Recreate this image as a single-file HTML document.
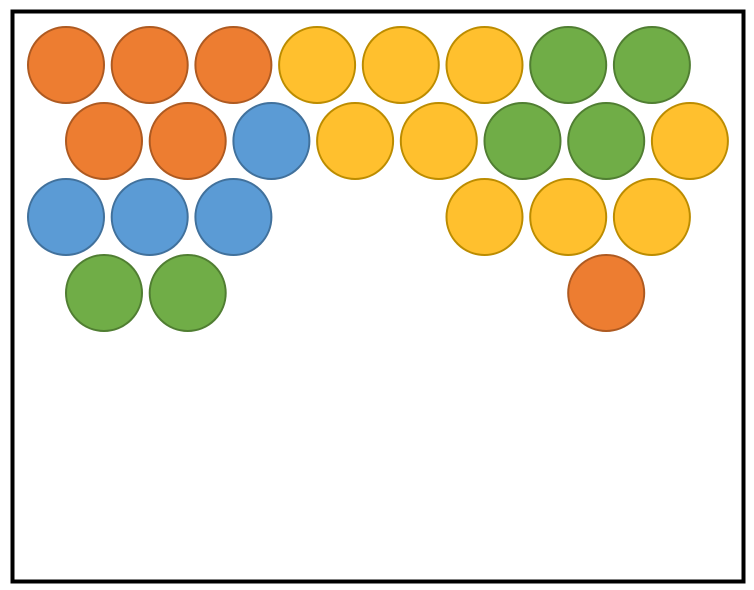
<!DOCTYPE html>
<html><head><meta charset="utf-8"><style>
html,body{margin:0;padding:0;background:#fff;width:754px;height:590px;overflow:hidden}
</style></head><body>
<svg id="chart" width="754" height="590" xmlns="http://www.w3.org/2000/svg">
<rect x="12.5" y="11.5" width="731" height="570" fill="#fff" stroke="#000" stroke-width="4"/>
<g id="bubbles"></g>
</svg>
<script>
// Grid data: O=orange, Y=yellow, G=green, B=blue, .=empty
const row1 = ['O','O','O','Y','Y','Y','G','G'];
const row2 = ['O','O','B','Y','Y','G','G','Y'];
const row3 = ['B','B','B','.','.','Y','Y','Y'];
const row4 = ['G','G','.','.','.','.','O','.'];
const rows = [row1,row2,row3,row4];
const fills = {O:'#ED7D31',Y:'#FFC02E',G:'#70AD47',B:'#5B9BD5'};
const strokes = {O:'#AE5A21',Y:'#BC8C00',G:'#507E32',B:'#41719C'};
const names = {O:'orange',Y:'yellow',G:'green',B:'blue'};
const x0 = 66, dx = 83.7, y0 = 65, dy = 76, r = 38, offset = 38;
const g = document.getElementById('bubbles');
function xPos(row,col){return x0 + col*dx + (row%2 ? offset : 0);}
function yPos(row){return y0 + row*dy;}
rows.forEach((row,ri)=>{
  row.forEach((c,ci)=>{
    if(c==='.') return;
    const el = document.createElementNS('http://www.w3.org/2000/svg','circle');
    el.setAttribute('cx', xPos(ri,ci));
    el.setAttribute('cy', yPos(ri));
    el.setAttribute('r', r);
    el.setAttribute('fill', fills[c]);
    el.setAttribute('stroke', strokes[c]);
    el.setAttribute('stroke-width', 2);
    
    
    g.appendChild(el);
  });
});
</script>
</body></html>
